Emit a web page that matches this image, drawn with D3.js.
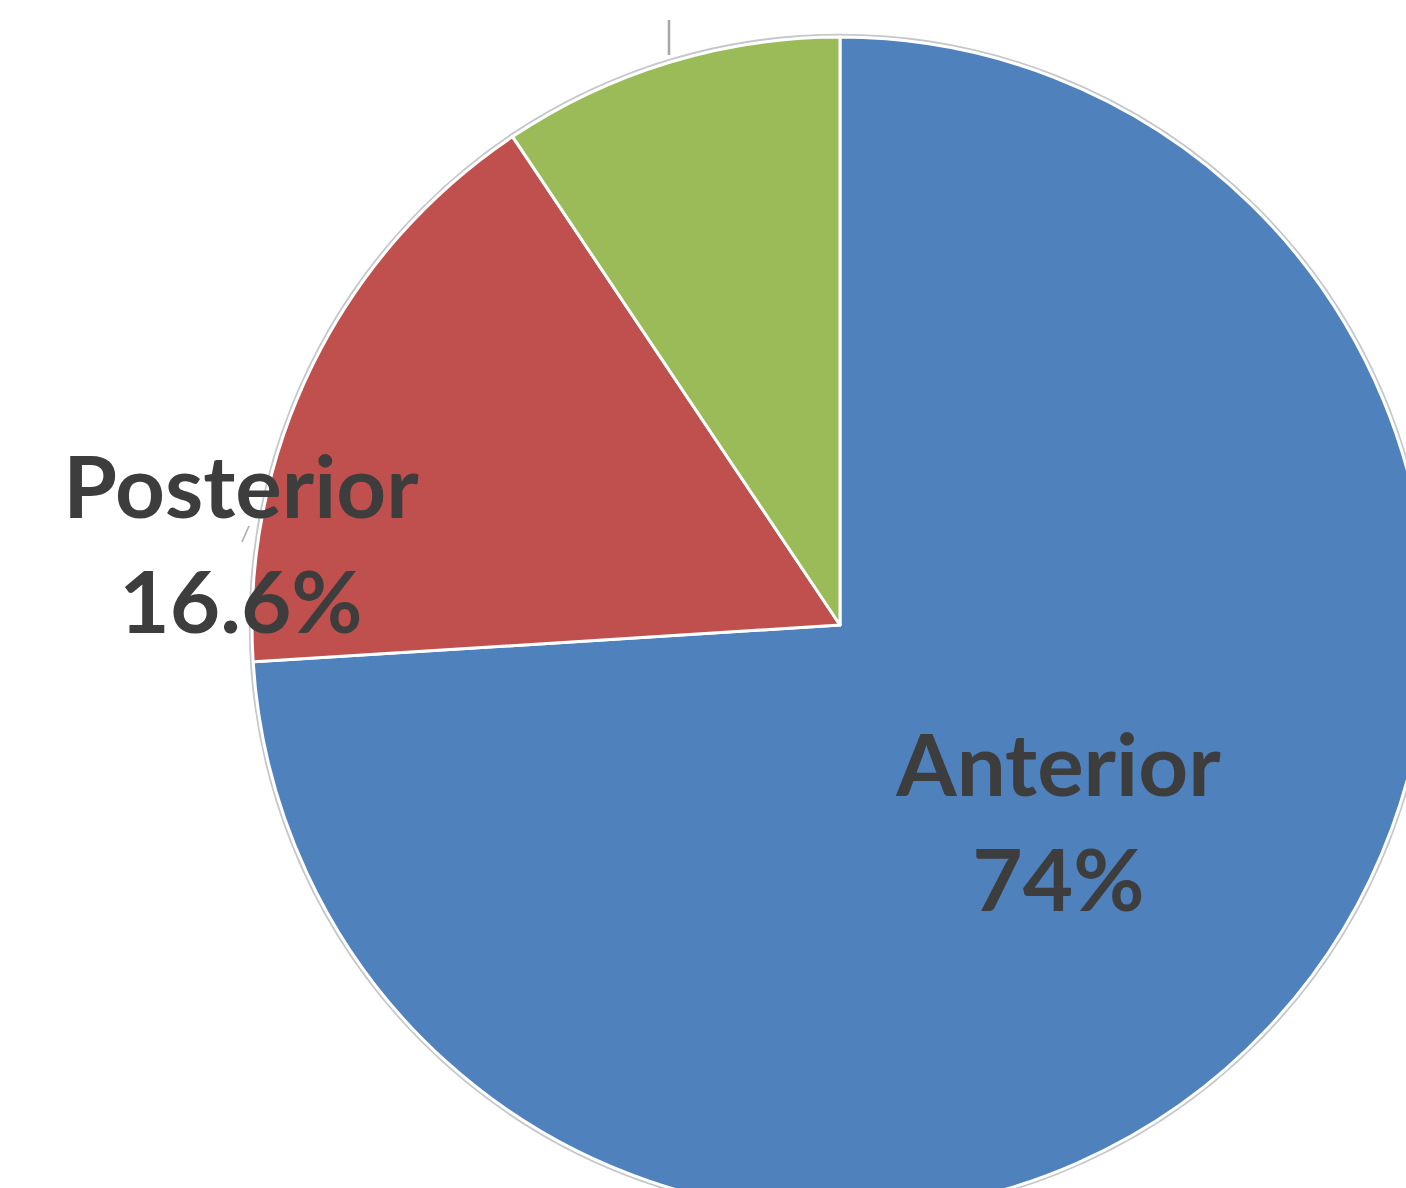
<!DOCTYPE html>
<html>
<head>
<meta charset="utf-8">
<script src="https://cdn.jsdelivr.net/npm/d3@7"></script>
<style>
  html, body { margin: 0; padding: 0; background: #ffffff; }
  svg { display: block; }
  .lbl { font-family: Lato, "Open Sans", sans-serif; font-weight: 700; fill: #3d3d3d; }
</style>
</head>
<body>
<svg id="chart" width="1406" height="1188"></svg>
<script>
// Share of lesions by location (percent)
const categories = ["Anterior", "Posterior", "Other"];
const values = [74, 16.6, 9.4];
const colors = ["#4f81bd", "#c0504d", "#9bbb59"];
const labelText = ["74%", "16.6%", "9.4%"];

const svg = d3.select("#chart");
const W = 1406, H = 1188;
const cx = 840, cy = 625, R = 588;

const pie = d3.pie().sort(null).value(d => d.value)
  .startAngle(0).endAngle(2 * Math.PI);
const arcs = pie(categories.map((c, i) => ({ name: c, value: values[i], color: colors[i], pct: labelText[i] })));

const arc = d3.arc().innerRadius(0).outerRadius(R);
const g = svg.append("g").attr("transform", `translate(${cx},${cy})`);

// faint outer rim
g.append("circle").attr("r", R + 2)
  .attr("fill", "none").attr("stroke", "#c4c8cc").attr("stroke-width", 2.5);

g.selectAll("path.slice").data(arcs).join("path")
  .attr("class", "slice")
  .attr("d", arc)
  .attr("fill", d => d.data.color)
  .attr("stroke", "#ffffff")
  .attr("stroke-width", 3)
  .attr("stroke-linejoin", "round");

// leader line towards the label of the small slice (label sits above the frame)
svg.append("line")
  .attr("x1", 669).attr("y1", 20).attr("x2", 669).attr("y2", 55)
  .attr("stroke", "#a6a6a6").attr("stroke-width", 2.5);
// short leader stub near the Posterior label
svg.append("line")
  .attr("x1", 249).attr("y1", 526).attr("x2", 242).attr("y2", 542)
  .attr("stroke", "#8a8a8a").attr("stroke-width", 1.5).attr("opacity", 0.7);

// label positions: Anterior at the slice centroid, Posterior pulled outside left
const labelArc = d3.arc().innerRadius(R * 0.505).outerRadius(R * 0.505);
const fontSize = 87, lineGap = 115;
function drawLabel(d, x, y) {
  const t = svg.append("text").attr("class", "lbl")
    .attr("font-size", fontSize).attr("text-anchor", "middle");
  t.append("tspan").attr("x", x).attr("y", y - lineGap / 2 + 30).text(d.data.name);
  t.append("tspan").attr("x", x).attr("y", y + lineGap / 2 + 30).text(d.data.pct);
}
const [ax, ay] = labelArc.centroid(arcs[0]);
drawLabel(arcs[0], cx + ax + 2, cy + ay - 5);
drawLabel(arcs[1], 241, 545);
</script>
</body>
</html>
